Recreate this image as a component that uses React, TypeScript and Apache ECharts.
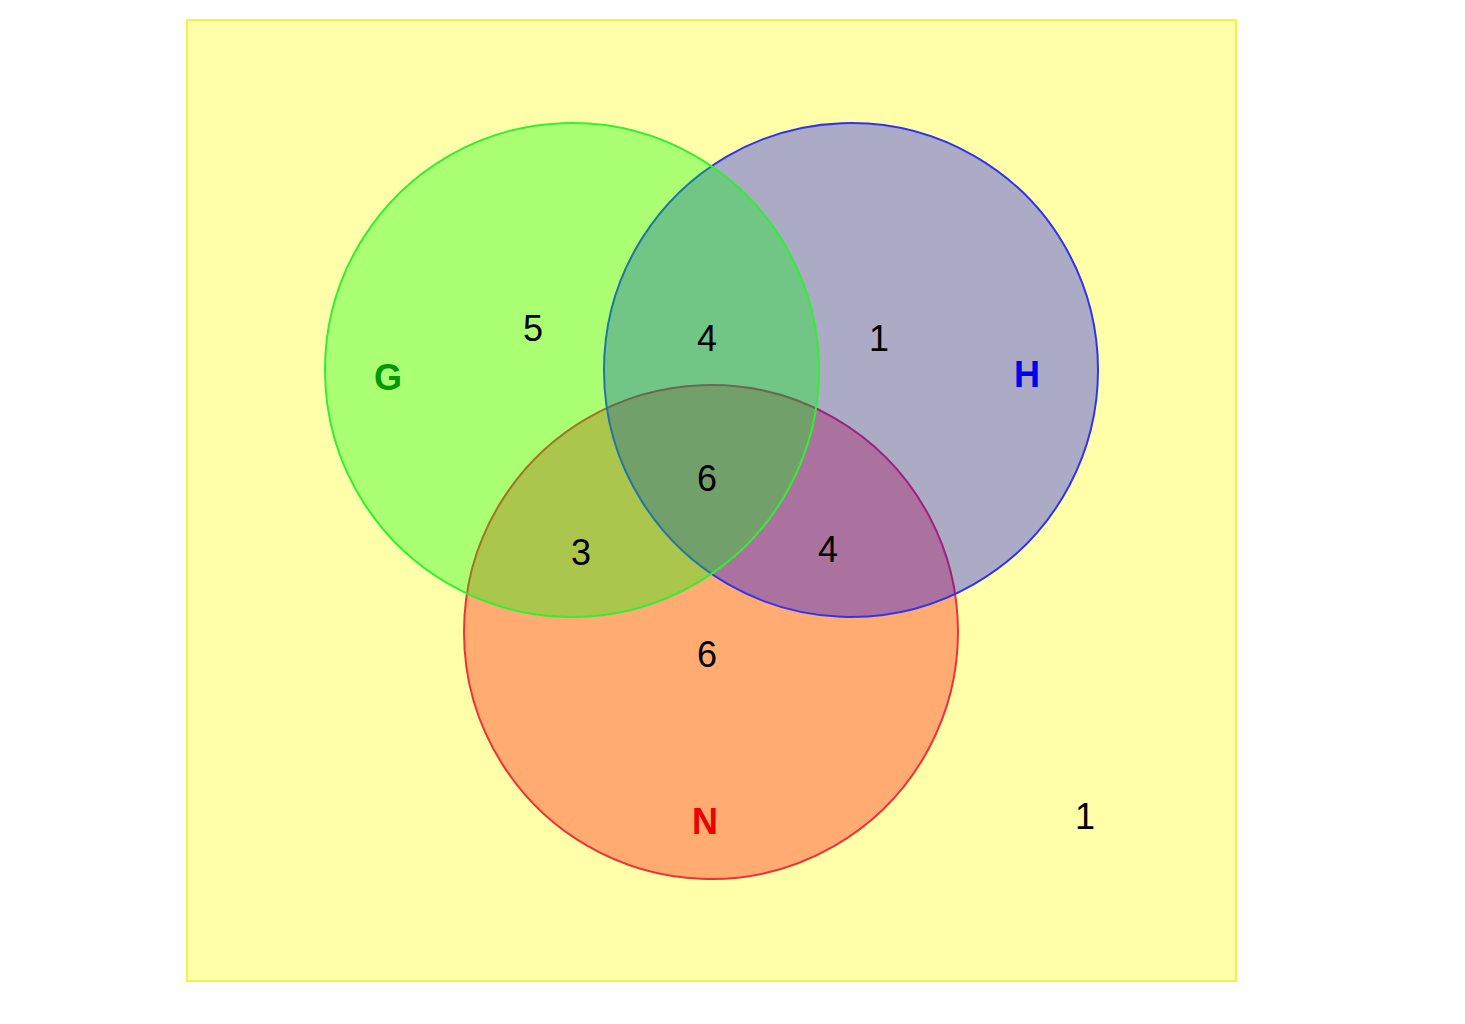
import { useRef, useEffect } from "react";
import * as echarts from "echarts";

// circles: [name, cx, cy, r] in plot units (box is 1049 x 961), drawn in this order
const CIRCLES: [string, number, number, number][] = [
  ["N", 524, 612, 247],
  ["H", 664, 350, 247],
  ["G", 385, 350, 247],
];
const CIRCLE_FILL: Record<string, string> = {
  G: "rgba(0,255,0,0.33)",
  H: "rgba(0,0,255,0.33)",
  N: "rgba(255,0,0,0.33)",
};
const CIRCLE_STROKE: Record<string, string> = { G: "#33ee33", H: "#3333ee", N: "#ee3333" };

// region counts: [label, x, y]
const COUNTS: [string, number, number][] = [
  ["5", 346, 308],
  ["4", 520, 318],
  ["1", 692, 318],
  ["6", 520, 458],
  ["3", 394, 532],
  ["4", 641, 529],
  ["6", 520, 634],
  ["1", 898, 796],
];
const SET_LABELS: [string, number, number, string][] = [
  ["G", 201, 357, "#009900"],
  ["H", 840, 354, "#0000ee"],
  ["N", 518, 801, "#ee0000"],
];

export default function App() {
  const ref = useRef<HTMLDivElement>(null);

  useEffect(() => {
    if (!ref.current) return;
    const chart = echarts.init(ref.current, null, { renderer: "svg" });
    chart.setOption({
      animation: false,
      grid: {
        left: 187, top: 20, width: 1049, height: 961, show: true,
        backgroundColor: "#ffffaa", borderColor: "#f5f04a", borderWidth: 2,
      },
      xAxis: { type: "value", min: 0, max: 1049, show: false },
      yAxis: { type: "value", min: 0, max: 961, inverse: true, show: false },
      series: [
        {
          type: "custom",
          data: CIRCLES.map((c) => [c[1], c[2], c[3]]),
          renderItem: (params: any, api: any) => {
            const c = CIRCLES[params.dataIndex];
            const p = api.coord([c[1], c[2]]);
            const r = api.size([c[3], 0])[0];
            return {
              type: "circle",
              shape: { cx: p[0], cy: p[1], r },
              style: { fill: CIRCLE_FILL[c[0]], stroke: CIRCLE_STROKE[c[0]], lineWidth: 2 },
            };
          },
          z: 1,
        },
        {
          type: "scatter",
          symbolSize: 0,
          itemStyle: { opacity: 1 },
          data: COUNTS.map((d) => ({ value: [d[1], d[2]], name: d[0] })),
          label: {
            show: true, position: "inside", formatter: "{b}",
            fontSize: 36, color: "#000000", fontFamily: "Liberation Sans",
          },
          z: 3,
        },
        {
          type: "scatter",
          symbolSize: 0,
          itemStyle: { opacity: 1 },
          data: SET_LABELS.map((d) => ({
            value: [d[1], d[2]], name: d[0],
            label: { color: d[3] },
          })),
          label: {
            show: true, position: "inside", formatter: "{b}",
            fontSize: 36, fontWeight: "bold", fontFamily: "Liberation Sans",
          },
          z: 3,
        },
      ],
    });
    return () => chart.dispose();
  }, []);

  return <div ref={ref} style={{ position: "absolute", left: 0, top: 0, width: 1465, height: 1024, background: "#fff" }} />;
}
